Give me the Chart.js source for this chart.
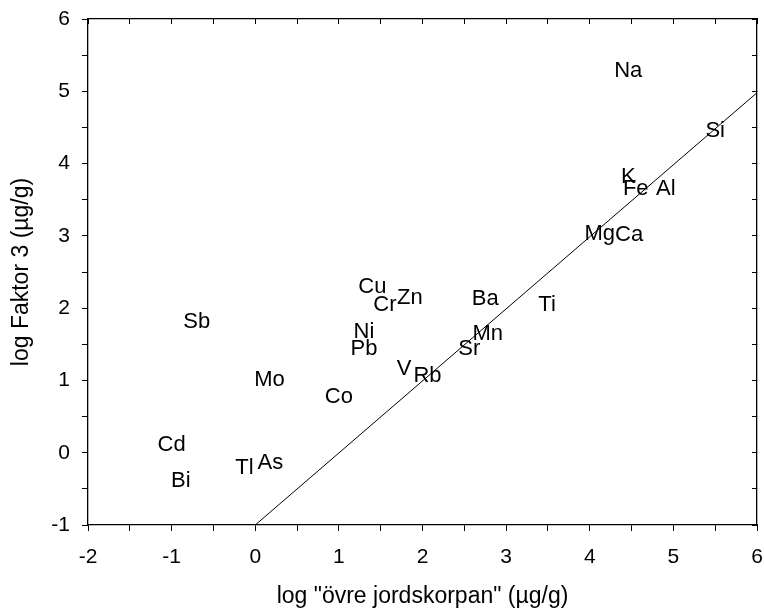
<!DOCTYPE html>
<html>
<head>
<meta charset="utf-8">
<script src="https://cdn.jsdelivr.net/npm/chart.js@4"></script>
<style>
  html, body { margin: 0; padding: 0; background: #fff; }
  #wrap { width: 764px; height: 612px; }
</style>
</head>
<body>
<div id="wrap"><canvas id="c" width="764" height="612"></canvas></div>
<script>
// ---- data ----
const elements = ["Na","Si","K","Fe","Al","Mg","Ca","Zn","Ba","Ti","Mn","Sr","Rb","V","Sb","Mo","Co","Cd","Bi","Tl","As","Cu","Cr","Ni","Pb"];
const crustLog = [4.46, 5.50, 4.46, 4.55, 4.91, 4.12, 4.47, 1.85, 2.75, 3.49, 2.78, 2.56, 2.06, 1.78, -0.70, 0.17, 1.00, -1.00, -0.89, -0.13, 0.18, 1.40, 1.55, 1.30, 1.30];
const factor3Log = [5.31, 4.48, 3.84, 3.68, 3.67, 3.06, 3.04, 2.17, 2.15, 2.07, 1.67, 1.46, 1.09, 1.18, 1.84, 1.03, 0.80, 0.13, -0.37, -0.19, -0.11, 2.32, 2.07, 1.70, 1.46];
const refLineX = [0, 6];
const refLineY = [-1, 4.98];
const xTicksRange = [-2, 6];
const yTicksRange = [-1, 6];

const FONT = "'Liberation Sans', Arial, sans-serif";

const labelPlugin = {
  id: 'elementLabels',
  afterDatasetsDraw(chart) {
    const meta = chart.getDatasetMeta(0);
    const ctx = chart.ctx;
    ctx.save();
    ctx.font = "22px " + FONT;
    ctx.fillStyle = "#000";
    ctx.textAlign = "center";
    ctx.textBaseline = "alphabetic";
    meta.data.forEach((pt, i) => {
      ctx.fillText(elements[i], pt.x, pt.y + 8);
    });
    ctx.restore();
  }
};

const intLabel = v => (Math.abs(v - Math.round(v)) < 1e-6 ? String(Math.round(v)) : '');
const noPad = s => { s.paddingLeft = 0; s.paddingRight = 0; s.paddingTop = 0; s.paddingBottom = 0; };

new Chart(document.getElementById('c'), {
  data: {
    datasets: [
      {
        type: 'scatter',
        data: elements.map((e, i) => ({x: crustLog[i], y: factor3Log[i]})),
        pointRadius: 0,
        pointHoverRadius: 0,
        xAxisID: 'x', yAxisID: 'y'
      },
      {
        type: 'line',
        data: refLineX.map((x, i) => ({x: x, y: refLineY[i]})),
        borderColor: '#000',
        borderWidth: 1,
        pointRadius: 0,
        fill: false,
        xAxisID: 'x', yAxisID: 'y'
      }
    ]
  },
  options: {
    responsive: false,
    animation: false,
    layout: { padding: 0 },
    plugins: { legend: { display: false }, tooltip: { enabled: false } },
    scales: {
      x: {
        type: 'linear', position: 'bottom',
        min: xTicksRange[0], max: xTicksRange[1],
        afterFit: s => { s.height = 87; noPad(s); },
        border: { display: true, color: '#000', width: 1.3 },
        grid: { drawOnChartArea: false, drawTicks: true, tickLength: 6, color: '#000', tickColor: '#000' },
        ticks: { stepSize: 0.5, callback: intLabel, color: '#000', font: { size: 21, family: FONT }, padding: 14, maxRotation: 0, autoSkip: false },
        title: { display: true, text: 'log "övre jordskorpan" (µg/g)', color: '#000', font: { size: 23, family: FONT }, padding: { bottom: 2, top: 0 } }
      },
      y: {
        type: 'linear', position: 'left',
        min: yTicksRange[0], max: yTicksRange[1],
        afterFit: s => { s.width = 88; noPad(s); },
        border: { display: true, color: '#000', width: 1.3 },
        grid: { drawOnChartArea: false, drawTicks: true, tickLength: 6, color: '#000', tickColor: '#000' },
        ticks: { stepSize: 0.5, callback: intLabel, color: '#000', font: { size: 21, family: FONT }, padding: 12, autoSkip: false },
        title: { display: true, text: 'log Faktor 3 (µg/g)', color: '#000', font: { size: 23, family: FONT }, padding: { top: 8, bottom: 0 } }
      },
      x2: {
        type: 'linear', position: 'top',
        min: xTicksRange[0], max: xTicksRange[1],
        afterFit: s => { s.height = 19; noPad(s); },
        border: { display: true, color: '#000', width: 1.3 },
        grid: { drawOnChartArea: false, drawTicks: true, tickLength: -5, color: '#000', tickColor: '#000' },
        ticks: { stepSize: 0.5, display: false, autoSkip: false }
      },
      y2: {
        type: 'linear', position: 'right',
        min: yTicksRange[0], max: yTicksRange[1],
        afterFit: s => { s.width = 7; noPad(s); },
        border: { display: true, color: '#000', width: 1.3 },
        grid: { drawOnChartArea: false, drawTicks: true, tickLength: -5, color: '#000', tickColor: '#000' },
        ticks: { stepSize: 0.5, display: false, autoSkip: false }
      }
    }
  },
  plugins: [labelPlugin]
});
</script>
</body>
</html>
